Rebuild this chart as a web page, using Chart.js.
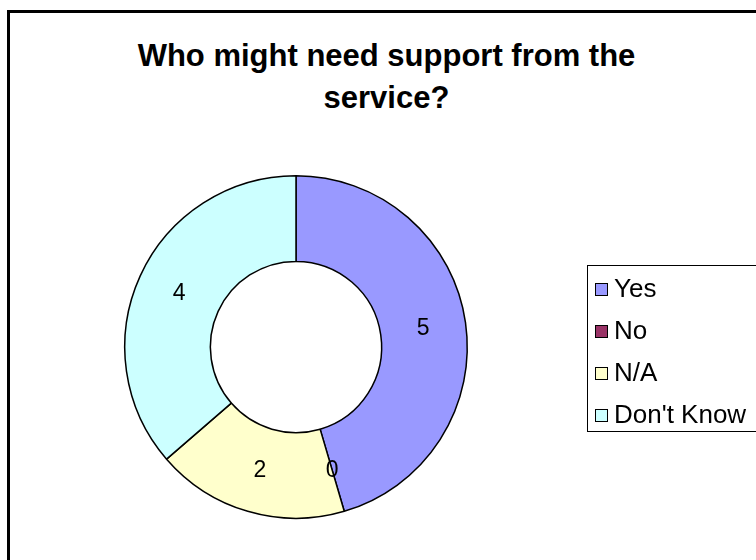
<!DOCTYPE html>
<html>
<head>
<meta charset="utf-8">
<script src="https://cdn.jsdelivr.net/npm/chart.js@4"></script>
<style>
  body { margin: 0; width: 756px; height: 560px; overflow: hidden; background: #fff; position: relative; font-family: Arial, "Liberation Sans", sans-serif; }
  .frame { position: absolute; left: 7px; top: 10px; width: 900px; height: 700px; border: 3px solid #000; }
  #grafico { position: absolute; left: 0; top: 0; }
  .titulo { position: absolute; left: 0; top: 35px; width: 773px; text-align: center; font-weight: bold; font-size: 31px; line-height: 42px; color: #000; }
  .legenda { position: absolute; left: 587px; top: 265px; width: 200px; height: 167px; border: 1px solid #000; box-sizing: border-box; }
  .legenda .item { position: absolute; left: 7px; height: 30px; font-size: 26px; line-height: 30px; color: #000; white-space: nowrap; }
  .legenda .cor { display: inline-block; width: 11px; height: 11px; border: 1.5px solid #000; margin-right: 6px; vertical-align: 1px; }
</style>
</head>
<body>
<div class="frame"></div>
<div class="titulo">Who might need support from the<br>service?</div>
<canvas id="grafico" width="756" height="560"></canvas>
<div class="legenda" id="legenda"></div>
<script>
// Respostas
const categorias = ['Yes', 'No', 'N/A', "Don't Know"];
const respostas = [5, 0, 2, 4];
const cores = ['#9999FF', '#993366', '#FFFFCC', '#CCFFFF'];

// Legenda em HTML
const legenda = document.getElementById('legenda');
categorias.forEach((nome, i) => {
  const item = document.createElement('div');
  item.className = 'item';
  item.style.top = (7 + i * 42) + 'px';
  item.innerHTML = '<span class="cor" style="background:' + cores[i] + '"></span>' + nome;
  legenda.appendChild(item);
});

// Valores escritos no meio de cada fatia
const rotulos = {
  id: 'rotulos',
  afterDatasetsDraw(chart) {
    const ctx = chart.ctx;
    const meta = chart.getDatasetMeta(0);
    ctx.save();
    ctx.font = '23px Arial, "Liberation Sans", sans-serif';
    ctx.fillStyle = '#000';
    ctx.textAlign = 'center';
    ctx.textBaseline = 'middle';
    meta.data.forEach((arco, i) => {
      const p = arco.tooltipPosition();
      ctx.fillText(String(respostas[i]), p.x, p.y);
    });
    ctx.restore();
  },
};

const ctx = document.getElementById('grafico').getContext('2d');
const grafico = new Chart(ctx, {
  type: 'doughnut',
  data: {
    labels: categorias,
    datasets: [
      {
        data: respostas,
        backgroundColor: cores,
        borderColor: '#000',
        borderWidth: 1.5,
      },
    ],
  },
  options: {
    responsive: false,
    animation: false,
    cutout: '50%',
    layout: {
      padding: { left: 124, top: 175, right: 288, bottom: 41 },
    },
    plugins: {
      legend: { display: false },
      tooltip: { enabled: false },
    },
  },
  plugins: [rotulos],
});
</script>
</body>
</html>
